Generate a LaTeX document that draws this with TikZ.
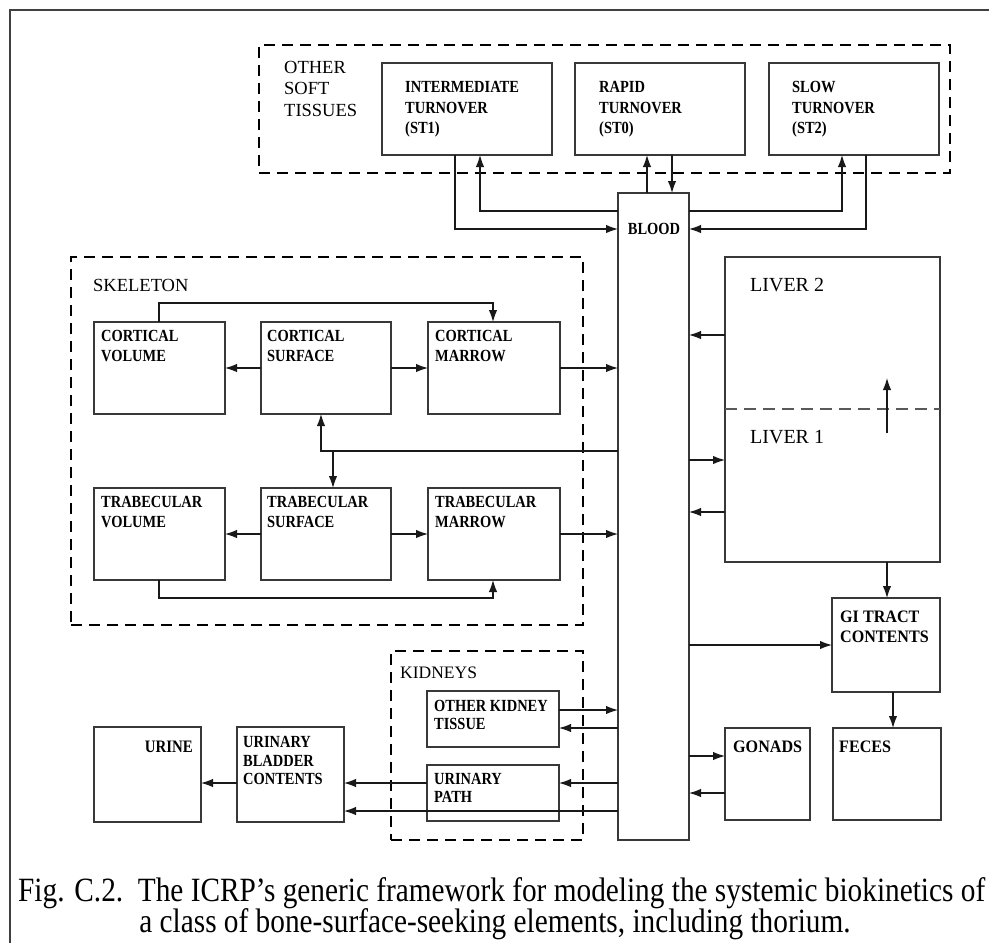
\documentclass[tikz,border=0pt]{standalone}
\usepackage{fontspec}
\setmainfont{Liberation Serif}
\newfontfamily\capfont[FakeStretch=0.862]{Liberation Serif}
\newfontfamily\boxfont[FakeStretch=0.85]{Liberation Serif Bold}
\newfontfamily\bigboxfont[FakeStretch=0.92]{Liberation Serif Bold}
\usetikzlibrary{arrows.meta,calc}
\newcommand\mkbox[6]{\node[#1, anchor=north west, minimum width=#5-#3, minimum height=#6-#4] (#2) at (#3,-#4) {};}
\begin{document}
\begin{tikzpicture}[x=1pt,y=1pt,
  cbox/.style={draw=black!78, line width=2.8pt, outer sep=0pt, inner sep=0pt, fill=white},
  dbox/.style={draw=black, line width=2.8pt, dash pattern=on 11pt off 7pt, outer sep=0pt, inner sep=0pt},
  arr/.style={-{Latex[length=12pt,width=8.5pt]}, line width=1.2pt, draw=black!90},
  lbl/.style={font=\boxfont\fontsize{17}{19.5}\selectfont, align=left, inner sep=0pt, anchor=north west},
  blbl/.style={font=\bigboxfont\fontsize{17.5}{20}\selectfont, align=left, inner sep=0pt, anchor=north west},
  sec/.style={font=\fontsize{18.5}{21.5}\selectfont, align=left, inner sep=0pt, anchor=north west},
  ldash/.style={line width=1.3pt, draw=black!65, dash pattern=on 12pt off 7pt}]
\useasboundingbox (0,0) rectangle (989,-943);
% frame
\draw[line width=2.8pt, black!75] (10,-943) -- (10,-10) -- (989,-10);
% dashed groups
\mkbox{dbox}{ost}{259}{45}{950}{173}
\mkbox{dbox}{skel}{71}{257}{583}{625}
\mkbox{dbox}{kid}{391}{651}{583}{840}
% boxes
\mkbox{cbox}{st1}{382}{63}{552}{155}
\mkbox{cbox}{st0}{575}{63}{745}{155}
\mkbox{cbox}{st2}{769}{63}{939}{155}
\mkbox{cbox}{blood}{618}{193}{689}{840}
\mkbox{cbox}{cv}{94}{322}{225}{414}
\mkbox{cbox}{cs}{261}{322}{391}{414}
\mkbox{cbox}{cm}{428}{322}{560}{414}
\mkbox{cbox}{tv}{94}{488}{225}{580}
\mkbox{cbox}{ts}{261}{488}{391}{580}
\mkbox{cbox}{tm}{428}{488}{560}{580}
\mkbox{cbox}{liver}{725}{257}{940}{562}
\mkbox{cbox}{gi}{832}{598}{940}{692}
\mkbox{cbox}{gon}{725}{728}{810}{820}
\mkbox{cbox}{fec}{833}{728}{941}{820}
\mkbox{cbox}{okt}{427}{691}{559}{747}
\mkbox{cbox}{up}{427}{765}{559}{821}
\mkbox{cbox}{bld}{237}{727}{344}{822}
\mkbox{cbox}{urine}{94}{727}{201}{822}
% labels
\node[sec] (t-ost) at (284,-61) {OTHER\\SOFT\\TISSUES};
\node[lbl, font=\boxfont\fontsize{17}{20.5}\selectfont] (t-st1) at (405,-81.5) {INTERMEDIATE\\TURNOVER\\(ST1)};
\node[lbl, font=\boxfont\fontsize{17}{20.5}\selectfont] (t-st0) at (599,-81.5) {RAPID\\TURNOVER\\(ST0)};
\node[lbl, font=\boxfont\fontsize{17}{20.5}\selectfont] (t-st2) at (792,-81.5) {SLOW\\TURNOVER\\(ST2)};
\node[lbl, anchor=center] (t-blood) at (654,-229) {BLOOD};
\node[sec] (t-skel) at (93,-279) {SKELETON};
\node[lbl] (t-cv) at (101,-330.5) {CORTICAL\\VOLUME};
\node[lbl] (t-cs) at (267,-330.5) {CORTICAL\\SURFACE};
\node[lbl] (t-cm) at (435,-330.5) {CORTICAL\\MARROW};
\node[lbl] (t-tv) at (101,-496.5) {TRABECULAR\\VOLUME};
\node[lbl] (t-ts) at (267,-496.5) {TRABECULAR\\SURFACE};
\node[lbl] (t-tm) at (435,-496.5) {TRABECULAR\\MARROW};
\node[sec, font=\fontsize{20}{22}\selectfont] (t-l2) at (750,-278) {LIVER 2};
\node[sec, font=\fontsize{20}{22}\selectfont] (t-l1) at (750,-430) {LIVER 1};
\node[blbl] (t-gi) at (840,-611.2) {GI TRACT\\CONTENTS};
\node[blbl] (t-gon) at (733,-741.2) {GONADS};
\node[blbl] (t-fec) at (839,-741.2) {FECES};
\node[sec, font=\fontsize{17.5}{20}\selectfont] (t-kid) at (400,-667) {KIDNEYS};
\node[lbl, font=\boxfont\fontsize{17}{18}\selectfont] (t-okt) at (434,-700.4) {OTHER KIDNEY\\TISSUE};
\node[lbl, font=\boxfont\fontsize{17}{18}\selectfont] (t-up) at (434,-773.4) {URINARY\\PATH};
\node[lbl, font=\boxfont\fontsize{17}{18.5}\selectfont] (t-bld) at (243,-736.4) {URINARY\\BLADDER\\CONTENTS};
\node[lbl, anchor=north east, font=\boxfont\fontsize{17.5}{18}\selectfont] (t-ur) at (193,-741.2) {URINE};
% soft tissue connectors
\draw[arr] (455,0 |- st1.south) |- (blood.west |- 0,-229);
\draw[arr] (blood.west |- 0,-211) -| (480,0 |- st1.south);
\draw[arr] (647,0 |- blood.north) -- (647,0 |- st0.south);
\draw[arr] (672,0 |- st0.south) -- (672,0 |- blood.north);
\draw[arr] (blood.east |- 0,-211) -| (842,0 |- st2.south);
\draw[arr] (866,0 |- st2.south) |- (blood.east |- 0,-229);
% skeleton connectors
\draw[arr] (cs.west |- 0,-368) -- (cv.east |- 0,-368);
\draw[arr] (cs.east |- 0,-368) -- (cm.west |- 0,-368);
\draw[arr] (cm.east |- 0,-368) -- (blood.west |- 0,-368);
\draw[arr] (159,0 |- cv.north) -- (159,-303) -| (493,0 |- cm.north);
\draw[arr] (ts.west |- 0,-534) -- (tv.east |- 0,-534);
\draw[arr] (ts.east |- 0,-534) -- (tm.west |- 0,-534);
\draw[arr] (tm.east |- 0,-534) -- (blood.west |- 0,-534);
\draw[arr] (159,0 |- tv.south) -- (159,-598) -| (493,0 |- tm.south);
\draw[arr] (blood.west |- 0,-451) -| (321,0 |- cs.south);
\coordinate (bj) at (333,-451);
\draw[arr] (bj) -- (bj |- ts.north);
% liver
\draw[arr] (liver.west |- 0,-335) -- (blood.east |- 0,-335);
\draw[arr] (blood.east |- 0,-460) -- (liver.west |- 0,-460);
\draw[arr] (liver.west |- 0,-512) -- (blood.east |- 0,-512);
\draw[ldash] (liver.west |- 0,-409) -- (liver.east |- 0,-409);
\coordinate (la) at (887,-433);
\coordinate (lb) at (887,-378);
\draw[arr] (la) -- (lb);
\draw[arr] (887,0 |- liver.south) -- (887,0 |- gi.north);
\draw[arr] (blood.east |- 0,-645) -- (gi.west |- 0,-645);
\draw[arr] (893,0 |- gi.south) -- (893,0 |- fec.north);
\draw[arr] (blood.east |- 0,-756) -- (gon.west |- 0,-756);
\draw[arr] (gon.west |- 0,-793) -- (blood.east |- 0,-793);
% kidneys
\draw[arr] (okt.east |- 0,-710) -- (blood.west |- 0,-710);
\draw[arr] (blood.west |- 0,-728) -- (okt.east |- 0,-728);
\draw[arr] (blood.west |- 0,-783) -- (up.east |- 0,-783);
\draw[arr] (up.west |- 0,-783) -- (bld.east |- 0,-783);
\draw[arr] (blood.west |- 0,-811) -- (bld.east |- 0,-811);
\draw[arr] (bld.west |- 0,-783) -- (urine.east |- 0,-783);
% caption
\node[inner sep=0pt, anchor=base west, font=\capfont\fontsize{34}{31}\selectfont] (cap1) at (18,-901) {Fig. C.2.\ \ The ICRP’s generic framework for modeling the systemic biokinetics of};
\node[inner sep=0pt, anchor=base, font=\capfont\fontsize{34}{31}\selectfont] (cap2) at (495,-932) {a class of bone-surface-seeking elements, including thorium.};
\end{tikzpicture}
\end{document}
